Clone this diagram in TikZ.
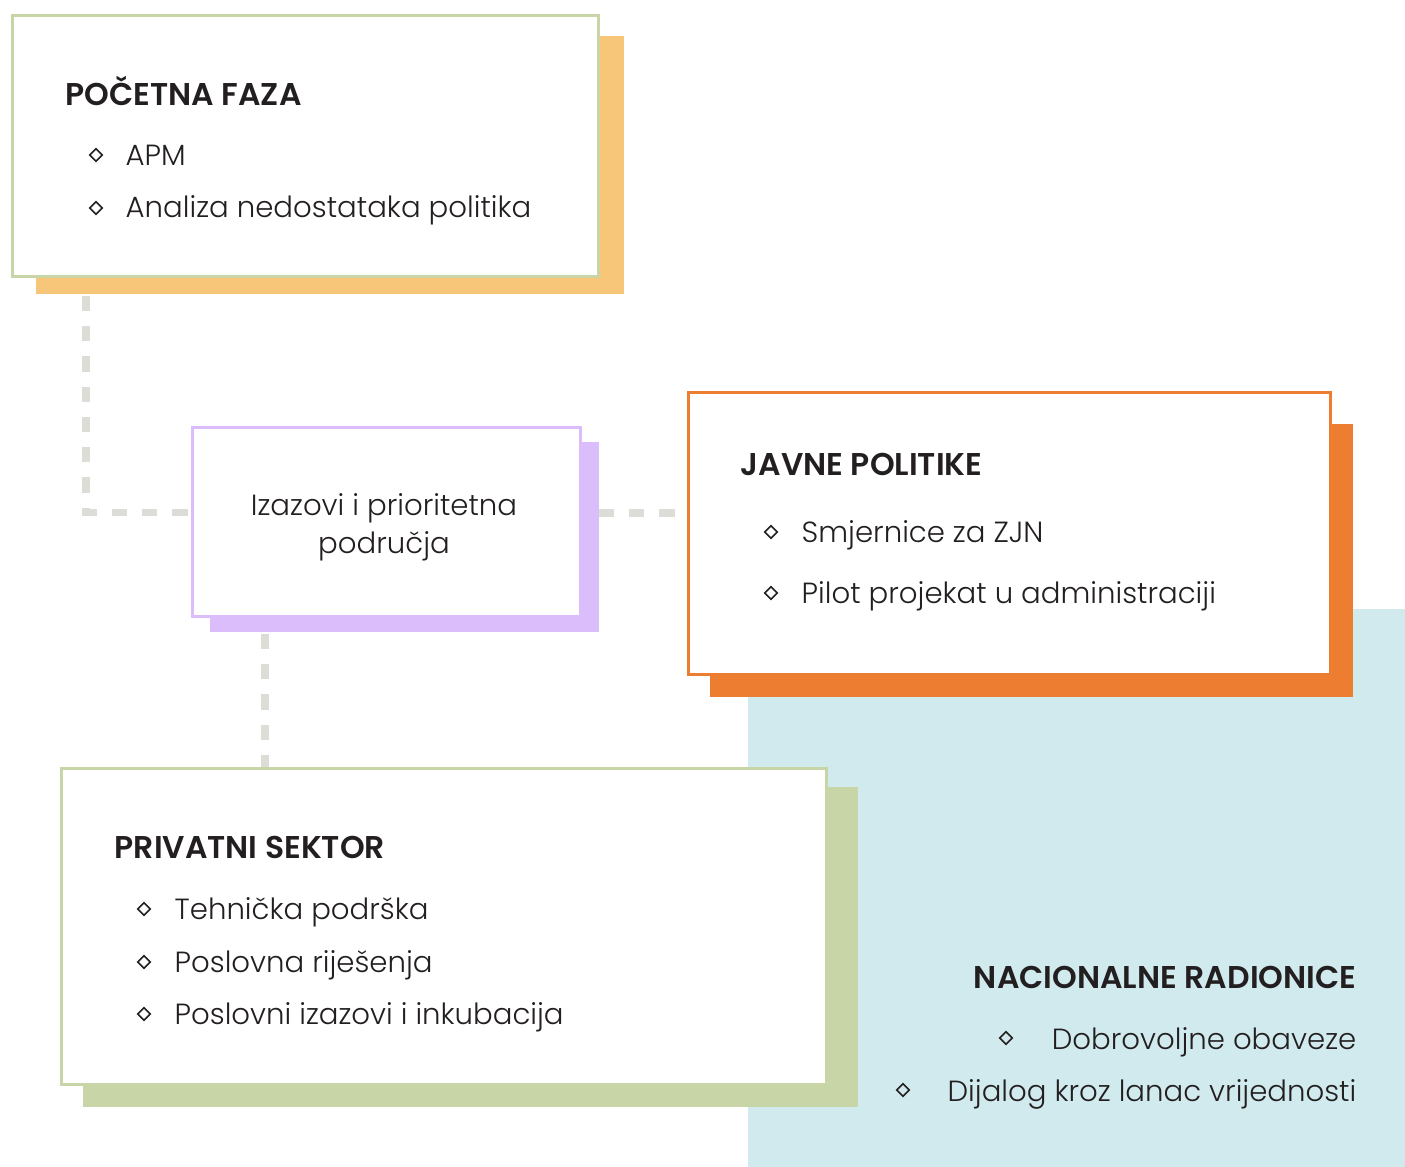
\documentclass[tikz,border=0pt]{standalone}
\usepackage{fontspec}
\setmainfont{Poppins}[UprightFont=* Light, BoldFont=* SemiBold]
\usetikzlibrary{calc}
\usetikzlibrary{positioning}
\usetikzlibrary{shapes.geometric}

\definecolor{ink}{HTML}{231F20}
\definecolor{grn}{HTML}{C8D5A6}
\definecolor{peach}{HTML}{F7C679}
\definecolor{lilac}{HTML}{DCBDFC}
\definecolor{orng}{HTML}{ED7D31}
\definecolor{sky}{HTML}{D1EAED}
\definecolor{dashgray}{HTML}{DCDDD6}

\tikzset{
  box/.style={draw, line width=0.85pt, fill=white, anchor=north west, inner sep=0pt},
  head/.style={inner sep=0pt, text=ink, font=\fontsize{8.95}{11}\selectfont\bfseries},
  item/.style={inner sep=0pt, text=ink, font=\fontsize{8.3}{10.8}\selectfont},
  bul/.style={diamond, draw=ink, line width=0.45pt, inner sep=0pt, minimum size=0.13cm},
  conn/.style={draw=dashgray, line width=2pt, dash pattern=on 4.3pt off 4.3pt},
}

\begin{document}
\begin{tikzpicture}[x=0.01cm,y=-0.01cm]
        \useasboundingbox (0,0) rectangle (1405,1167);
        % background panel and shadows
        \fill[sky] (748,609) rectangle (1405,1167);
        \fill[peach] (36,36) rectangle (624,294);
        \fill[lilac] (210,442) rectangle (599,632);
        \fill[orng] (710,424) rectangle (1353,697);
        \fill[grn] (83,787) rectangle (858,1107);

        \node[box, draw=grn, minimum width=5.86cm, minimum height=2.61cm] (pf) at (11,14) {};
        \node[box, draw=lilac, minimum width=3.88cm, minimum height=1.89cm] (iz) at (191,426) {};
        \node[box, draw=orng, minimum width=6.42cm, minimum height=2.82cm] (jp) at (687,391) {};
        \node[box, draw=grn, minimum width=7.65cm, minimum height=3.16cm] (ps) at (60,767) {};

        % dashed links
        \coordinate (c1) at (86,296);
        \coordinate (c2) at (599,513);
        \coordinate (c3) at (265,634);
        \draw[conn] (c1) |- ($(iz.west)+(0,-10)$);
        \draw[conn] (c2) -- (jp.west |- c2);
        \draw[conn] (c3) -- (ps.north -| c3);

        % Pocetna faza
        \node[head, anchor=base west] (pfh) at (65,106) {POČETNA FAZA};
        \node[bul] (pfb1) at (96,155) {};
        \node[item, anchor=base west] (pfi1) at (125,166) {APM};
        \node[bul] (pfb2) at (96,208) {};
        \node[item, anchor=base west] (pfi2) at (125,218) {Analiza nedostataka politika};

        % Izazovi
        \node[item, align=center] (izt) at (384,527) {Izazovi i prioritetna\\područja};

        % Javne politike
        \node[head, anchor=base west] (jph) at (740,476) {JAVNE POLITIKE};
        \node[bul] (jpb1) at (771,532) {};
        \node[item, anchor=base west] (jpi1) at (801,543) {Smjernice za ZJN};
        \node[bul] (jpb2) at (771,593) {};
        \node[item, anchor=base west] (jpi2) at (801,604) {Pilot projekat u administraciji};

        % Privatni sektor
        \node[head, anchor=base west] (psh) at (114,859) {PRIVATNI SEKTOR};
        \node[bul] (psb1) at (144,909) {};
        \node[item, anchor=base west] (psi1) at (174,920) {Tehnička podrška};
        \node[bul] (psb2) at (144,962) {};
        \node[item, anchor=base west] (psi2) at (174,973) {Poslovna riješenja};
        \node[bul] (psb3) at (144,1014) {};
        \node[item, anchor=base west] (psi3) at (174,1025) {Poslovni izazovi i inkubacija};

        % Nacionalne radionice
        \node[head, anchor=base east] (nrh) at (1357,989) {NACIONALNE RADIONICE};
        \node[bul] (nrb1) at (1006,1038) {};
        \node[item, anchor=base east] (nri1) at (1357,1050) {Dobrovoljne obaveze};
        \node[bul] (nrb2) at (903,1090) {};
        \node[item, anchor=base east] (nri2) at (1357,1102) {Dijalog kroz lanac vrijednosti};
    \end{tikzpicture}
\end{document}
